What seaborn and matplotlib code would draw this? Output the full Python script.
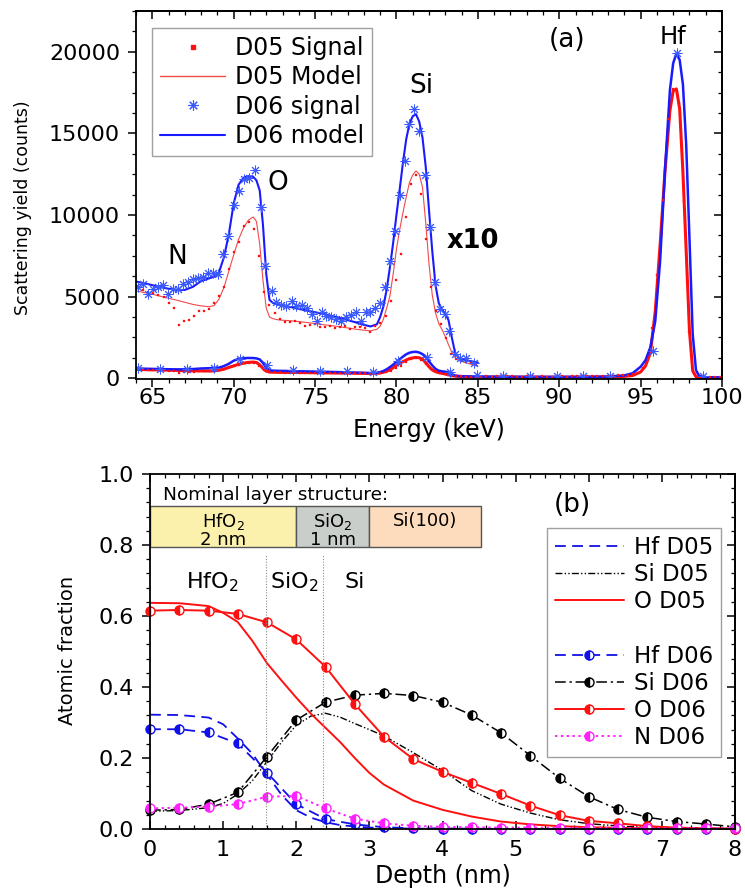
import matplotlib
matplotlib.use("Agg")
import matplotlib.pyplot as plt
from matplotlib.lines import Line2D
from matplotlib.patches import Rectangle
from matplotlib.ticker import MultipleLocator, FormatStrFormatter
import numpy as np
import seaborn as sns

# ---------------- (a) scattering spectra ----------------
# model curves (full-scale counts)
E_MODEL = [
    64.0, 64.5, 65.0, 65.5, 66.0, 66.5, 67.0, 67.5, 68.0, 68.5,
    68.8, 69.1, 69.4, 69.7, 70.0, 70.3, 70.6, 70.9, 71.2, 71.4,
    71.6, 71.8, 72.0, 72.2, 72.4, 72.7, 73.0, 73.5, 74.0, 74.5,
    75.0, 75.5, 76.0, 76.5, 77.0, 77.5, 78.0, 78.4, 78.8, 79.0,
    79.2, 79.4, 79.6, 79.8, 80.0, 80.2, 80.4, 80.6, 80.8, 81.0,
    81.2, 81.4, 81.6, 81.8, 82.0, 82.2, 82.4, 82.6, 82.8, 83.0,
    83.2, 83.4, 83.6, 83.8, 84.0, 84.5, 85.0, 86.0, 87.0, 88.0,
    89.0, 90.0, 91.0, 92.0, 93.0, 94.0, 94.5, 95.0, 95.3, 95.6,
    95.9, 96.2, 96.5, 96.8, 97.0, 97.2, 97.4, 97.6, 97.8, 98.0,
    98.2, 98.4, 98.6, 99.0, 99.5, 100.0]
D06_MODEL = [
    592, 582, 570, 558, 548, 541, 541, 560, 595, 612,
    622, 650, 740, 880, 1070, 1185, 1228, 1238, 1234, 1212,
    1150, 940, 640, 480, 462, 452, 447, 436, 425, 414,
    404, 395, 382, 370, 356, 342, 327, 317, 330, 375,
    440, 545, 680, 831, 1000, 1158, 1320, 1464, 1560, 1605,
    1618, 1572, 1475, 1295, 1030, 780, 570, 460, 420, 395,
    355, 250, 158, 128, 118, 105, 96, 90, 85, 82,
    80, 80, 82, 88, 100, 170, 300, 700, 1100, 1900,
    3500, 7200, 12800, 17650, 19300, 19900, 19500, 18000, 14300, 8600,
    2700, 500, 130, 60, 50, 45]
D05_MODEL = [
    535, 525, 515, 502, 490, 478, 465, 452, 443, 438,
    445, 485, 555, 655, 755, 850, 920, 968, 988, 960,
    820, 600, 430, 375, 365, 358, 355, 352, 347, 341,
    335, 328, 322, 315, 308, 300, 294, 290, 300, 318,
    362, 430, 504, 640, 790, 910, 1015, 1110, 1199, 1245,
    1270, 1250, 1170, 950, 700, 510, 400, 335, 298, 255,
    205, 158, 128, 112, 103, 88, 76, 70, 66, 63,
    60, 60, 62, 66, 75, 110, 160, 380, 750, 1550,
    4100, 8200, 12700, 16400, 17600, 17720, 16500, 12600, 7800, 2900,
    450, 90, 40, 30, 25, 20]

# measured D05 spectrum (counts)
E_D05_SIG = [
    64.14, 64.45, 64.76, 65.07, 65.38, 65.69, 66.00, 66.31, 66.62, 66.93,
    67.24, 67.55, 67.86, 68.17, 68.48, 68.79, 69.10, 69.41, 69.72, 70.03,
    70.34, 70.65, 70.96, 71.27, 71.58, 71.89, 72.20, 72.51, 72.82, 73.13,
    73.44, 73.75, 74.06, 74.37, 74.68, 74.99, 75.30, 75.61, 75.92, 76.23,
    76.54, 76.85, 77.16, 77.47, 77.78, 78.09, 78.40, 78.71, 79.02, 79.33,
    79.64, 79.95, 80.26, 80.57, 80.88, 81.19, 81.50, 81.81, 82.12, 82.43,
    82.74, 83.05, 83.36, 83.67, 83.98, 84.29, 84.60, 84.91, 85.22, 85.53,
    85.84, 86.15, 86.46, 86.77, 87.08, 87.39, 87.70, 88.01, 88.32, 88.63,
    88.94, 89.25, 89.56, 89.87, 90.18, 90.49, 90.80, 91.11, 91.42, 91.73,
    92.04, 92.35, 92.66, 92.97, 93.28, 93.59, 93.90, 94.21, 94.52, 94.83,
    95.14, 95.45, 95.72, 96.03, 96.37, 96.66, 96.97, 97.17, 97.37, 97.66,
    97.97, 98.34, 98.65, 98.96, 99.27, 99.58, 99.89]
D05_SIG = [
    566, 541, 530, 520, 512, 495, 460, 430, 327, 350,
    357, 380, 410, 410, 425, 460, 505, 560, 670, 776,
    835, 933, 960, 917, 750, 530, 450, 400, 360, 345,
    345, 351, 340, 321, 326, 335, 311, 316, 318, 306,
    311, 321, 300, 316, 311, 305, 280, 321, 341, 382,
    470, 600, 760, 985, 1190, 1245, 1130, 850, 560, 410,
    330, 245, 150, 118, 105, 98, 90, 82, 95, 105,
    100, 110, 95, 105, 120, 100, 95, 110, 105, 98,
    110, 100, 95, 105, 115, 100, 110, 120, 105, 115,
    120, 130, 125, 140, 160, 175, 190, 210, 240, 320,
    600, 1200, 3100, 6330, 10900, 15870, 17710, 17710, 16890, 10830,
    2860, 245, 80, 60, 55, 50, 45]

# measured D06 spectrum, light-element region (counts)
E_D06_SIG = [
    64.10, 64.41, 64.72, 65.03, 65.34, 65.65, 65.96, 66.27, 66.58, 66.89,
    67.20, 67.51, 67.82, 68.13, 68.44, 68.75, 69.06, 69.37, 69.68, 69.99,
    70.30, 70.61, 70.92, 71.31, 71.68, 71.93, 72.34, 72.60, 72.90, 73.20,
    73.56, 73.85, 74.17, 74.48, 74.79, 75.10, 75.40, 75.70, 75.98, 76.30,
    76.60, 76.90, 77.20, 77.50, 77.80, 78.10, 78.40, 78.70, 79.00, 79.30,
    79.60, 79.90, 80.20, 80.50, 80.80, 81.10, 81.40, 81.75, 82.06, 82.36,
    82.67, 82.98, 83.25, 83.60, 83.90, 84.27, 84.76]
D06_SIG = [
    556, 576, 515, 545, 560, 572, 515, 545, 545, 580,
    590, 607, 611, 620, 647, 643, 637, 760, 872, 1060,
    1148, 1223, 1229, 1277, 1052, 688, 535, 464, 450, 443,
    474, 440, 447, 433, 392, 351, 406, 380, 372, 362,
    351, 372, 390, 403, 351, 403, 403, 433, 460, 560,
    720, 900, 1120, 1330, 1556, 1652, 1515, 1244, 929, 590,
    423, 392, 290, 147, 121, 121, 96]

# measured D06 spectrum, full-scale symbols
E_D06_FULL = [64.14, 65.48, 67.13, 68.77, 70.40, 72.03, 73.67, 75.30, 76.94, 78.58,
              80.11, 81.86, 83.29, 84.93, 86.56, 88.20, 89.84, 91.47, 93.10, 95.78,
              97.25, 98.85]
D06_FULL = [650, 550, 550, 650, 1170, 800, 510, 410, 410, 400,
            1060, 1300, 350, 180, 140, 140, 140, 140, 150, 1670,
            19910, 140]

ZOOM_FACTOR = 10
ZOOM_END = 85.0

PEAK_LABELS = [("N", 66.55, 7400), ("O", 72.7, 11950), ("Si", 81.55, 17900)]

# ---------------- (b) depth profiles ----------------
DEPTH_D05 = [0.0, 0.4, 0.8, 1.0, 1.2, 1.4, 1.6, 1.8, 2.0, 2.2, 2.4, 2.6, 2.8,
             3.0, 3.2, 3.6, 4.0, 4.4, 4.8, 5.2, 5.6, 6.0, 6.5, 7.0, 7.5, 8.0]
HF_D05 = [0.322, 0.321, 0.314, 0.295, 0.255, 0.212, 0.153, 0.096, 0.053, 0.032,
          0.019, 0.011, 0.007, 0.004, 0.003, 0.001, 0.001, 0.0, 0.0, 0.0,
          0.0, 0.0, 0.0, 0.0, 0.0, 0.0]
SI_D05 = [0.050, 0.052, 0.060, 0.072, 0.098, 0.136, 0.190, 0.245, 0.292, 0.318,
          0.326, 0.315, 0.297, 0.280, 0.262, 0.215, 0.165, 0.108, 0.070, 0.045,
          0.026, 0.015, 0.007, 0.004, 0.002, 0.001]
O_D05 = [0.637, 0.636, 0.628, 0.609, 0.583, 0.530, 0.467, 0.418, 0.370, 0.325,
         0.285, 0.245, 0.200, 0.158, 0.125, 0.080, 0.054, 0.035, 0.021, 0.013,
         0.008, 0.005, 0.003, 0.002, 0.001, 0.000]

DEPTH_D06 = [0.0, 0.4, 0.8, 1.2, 1.6, 2.0, 2.4, 2.8, 3.2, 3.6, 4.0,
             4.4, 4.8, 5.2, 5.6, 6.0, 6.4, 6.8, 7.2, 7.6, 8.0]
HF_D06 = [0.281, 0.281, 0.272, 0.241, 0.159, 0.070, 0.028, 0.013, 0.005, 0.002,
          0.001, 0.001, 0.0, 0.0, 0.0, 0.0, 0.0, 0.0, 0.0, 0.0, 0.0]
SI_D06 = [0.053, 0.055, 0.070, 0.103, 0.204, 0.307, 0.357, 0.377, 0.382, 0.376,
          0.357, 0.321, 0.271, 0.207, 0.143, 0.091, 0.055, 0.033, 0.021, 0.014, 0.006]
O_D06 = [0.615, 0.617, 0.615, 0.606, 0.582, 0.534, 0.457, 0.352, 0.260, 0.197,
         0.161, 0.130, 0.099, 0.066, 0.039, 0.023, 0.016, 0.008, 0.004, 0.002, 0.001]
N_D06 = [0.058, 0.060, 0.063, 0.070, 0.091, 0.093, 0.058, 0.029, 0.016, 0.009,
         0.006, 0.005, 0.004, 0.004, 0.003, 0.003, 0.003, 0.002, 0.002, 0.002, 0.002]

INTERFACES = [1.58, 2.37]
LAYERS = [("HfO$_2$\n2 nm", 0.0, 2.0, "#fbf1ad"),
          ("SiO$_2$\n1 nm", 2.0, 3.0, "#c9cecb"),
          ("Si(100)", 3.0, 4.53, "#fcdcbc")]
REGION_LABELS = [("HfO$_2$", 0.85), ("SiO$_2$", 1.97), ("Si", 2.8)]

# ---------------- style ----------------
sns.set_theme(style="ticks")
plt.rcParams["font.family"] = ["DejaVu Sans"]
plt.rcParams["mathtext.fontset"] = "dejavusans"
for key in ["text.color", "axes.labelcolor", "xtick.color", "ytick.color", "axes.edgecolor"]:
    plt.rcParams[key] = "black"
plt.rcParams["axes.linewidth"] = 1.3

RED = "#ff1010"
RED_THIN = "#f04a4a"
BLUE = "#1a1aff"
BLUE_B = "#1010e8"
MAG = "#ff20ff"

W, H = 745, 890
fig = plt.figure(figsize=(W / 100, H / 100), dpi=100)


def px_box(left, top, right, bottom):
    return [left / W, 1 - bottom / H, (right - left) / W, (bottom - top) / H]


ax1 = fig.add_axes(px_box(136, 11, 722, 379))
ax2 = fig.add_axes(px_box(150, 474, 735, 829))


def draw(ax, x, y, **kw):
    sns.lineplot(x=np.asarray(x, float), y=np.asarray(y, float), ax=ax,
                 estimator=None, errorbar=None, sort=False, **kw)
    return ax.lines[-1]


def mirror_ticks(ax, xmaj, xmin, ymaj, ymin, top_x=True):
    sy = ax.secondary_yaxis("right")
    sy.yaxis.set_major_locator(MultipleLocator(ymaj))
    sy.yaxis.set_minor_locator(MultipleLocator(ymin))
    sy.tick_params(which="both", direction="in", labelright=False)
    sy.tick_params(which="major", length=5.5, width=1.1)
    sy.tick_params(which="minor", length=3, width=0.9)
    if top_x:
        sx = ax.secondary_xaxis("top")
        sx.xaxis.set_major_locator(MultipleLocator(xmaj))
        sx.xaxis.set_minor_locator(MultipleLocator(xmin))
        sx.tick_params(which="both", direction="in", labeltop=False)
        sx.tick_params(which="major", length=5.5, width=1.1)
        sx.tick_params(which="minor", length=3, width=0.9)


# ---------------- panel (a) ----------------
E = np.array(E_MODEL)
m05 = np.array(D05_MODEL, float)
m06 = np.array(D06_MODEL, float)
zm = E <= ZOOM_END

draw(ax1, E, m05, color=RED, lw=2.2)
draw(ax1, E, m06, color=BLUE, lw=1.8)
draw(ax1, E[zm], ZOOM_FACTOR * m05[zm], color=RED_THIN, lw=0.8)
draw(ax1, E[zm], ZOOM_FACTOR * m06[zm], color=BLUE, lw=1.5)

e5 = np.array(E_D05_SIG)
s5 = np.array(D05_SIG, float)
dot_kw = dict(color=RED, linestyle="none", marker="s", markersize=2.0,
              mfc=RED, mec=RED, mew=0.2)
draw(ax1, e5, s5, **dot_kw)
draw(ax1, e5[e5 <= ZOOM_END], ZOOM_FACTOR * s5[e5 <= ZOOM_END], **dot_kw)

star_kw = dict(color=BLUE, linestyle="none", marker=(8, 2, 0), markersize=7,
               mec="#3a5aff", mew=0.7)
draw(ax1, E_D06_SIG, ZOOM_FACTOR * np.array(D06_SIG, float), **star_kw)
draw(ax1, E_D06_FULL, D06_FULL, **star_kw)

ax1.set_xlim(64, 100)
ax1.set_ylim(-50, 22500)
ax1.xaxis.set_major_locator(MultipleLocator(5))
ax1.xaxis.set_minor_locator(MultipleLocator(1))
ax1.yaxis.set_major_locator(MultipleLocator(5000))
ax1.yaxis.set_minor_locator(MultipleLocator(1250))
ax1.tick_params(which="both", direction="out", top=False, right=False, labelsize=16)
ax1.tick_params(axis="x", pad=1)
ax1.tick_params(axis="y", pad=6)
ax1.tick_params(which="major", length=5.5, width=1.1)
ax1.tick_params(which="minor", length=3, width=0.9)
mirror_ticks(ax1, 5, 1, 5000, 1250)

ax1.set_xlabel("Energy (keV)", fontsize=17)
ax1.set_ylabel("Scattering yield (counts)", fontsize=12.5)
ax1.xaxis.set_label_coords(0.5, -0.105)
ax1.yaxis.set_label_coords(-0.178, 0.465)

for txt, ex, cy in PEAK_LABELS:
    ax1.text(ex, cy, txt, ha="center", va="center", fontsize=19)
ax1.text(97.0, 20900, "Hf", ha="center", va="center", fontsize=17.5)
ax1.text(90.5, 20700, "(a)", ha="center", va="center", fontsize=19)
ax1.text(84.67, 8380, "x10", ha="center", va="center", fontsize=18.5, fontweight="bold")

leg_a = [
    Line2D([], [], color=RED, linestyle="none", marker="s", markersize=2.5, mec=RED),
    Line2D([], [], color=RED_THIN, lw=1.0),
    Line2D([], [], color=BLUE, linestyle="none", marker=(8, 2, 0), markersize=7.5,
           mec="#3a5aff", mew=0.8),
    Line2D([], [], color=BLUE, lw=1.5),
]
lg = ax1.legend(leg_a, ["D05 Signal", "D05 Model", "D06 signal", "D06 model"],
                loc="upper left", bbox_to_anchor=((152 - 136) / 586, (379 - 28) / 368),
                borderaxespad=0, frameon=True, fancybox=False, edgecolor="#888888",
                fontsize=17, handlelength=2.75, handletextpad=0.4,
                labelspacing=0.22, borderpad=0.35, numpoints=1)
lg.get_frame().set_linewidth(1.0)

# ---------------- panel (b) ----------------
draw(ax2, DEPTH_D05, HF_D05, color=BLUE_B, lw=1.3, linestyle=(0, (6, 3.5)))
draw(ax2, DEPTH_D05, SI_D05, color="black", lw=1.0, linestyle=(0, (5, 1.6, 1, 1.6, 1, 1.6)))
draw(ax2, DEPTH_D05, O_D05, color=RED, lw=1.4)

half = dict(marker="o", markersize=6.5, fillstyle="left", markerfacecoloralt="white",
            mew=1.0, clip_on=False)
h_hf6 = draw(ax2, DEPTH_D06, HF_D06, color=BLUE_B, lw=1.3, linestyle=(0, (6, 3.5)),
             mfc=BLUE_B, mec=BLUE_B, **half)
h_si6 = draw(ax2, DEPTH_D06, SI_D06, color="black", lw=1.1, linestyle=(0, (7, 2.5, 1.5, 2.5)),
             mfc="black", mec="black", **half)
h_o6 = draw(ax2, DEPTH_D06, O_D06, color=RED, lw=1.4, mfc=RED, mec=RED, **half)
h_n6 = draw(ax2, DEPTH_D06, N_D06, color=MAG, lw=1.4, linestyle=(0, (1.2, 1.8)),
            mfc=MAG, mec=MAG, **half)

ax2.vlines(INTERFACES, 0, 0.775, colors="#8c8c8c", lw=0.8, linestyles=(0, (1, 1.5)))

for label, x0, x1, fc in LAYERS:
    ax2.add_patch(Rectangle((x0, 0.795), x1 - x0, 0.115, facecolor=fc,
                            edgecolor="#555555", lw=1.0, zorder=1))
ax2.text(1.0, 0.843, LAYERS[0][0], ha="center", va="center", fontsize=13, linespacing=0.95)
ax2.text(2.5, 0.843, LAYERS[1][0], ha="center", va="center", fontsize=13, linespacing=0.95)
ax2.text(3.765, 0.868, LAYERS[2][0], ha="center", va="center", fontsize=13)
ax2.text(0.18, 0.942, "Nominal layer structure:", ha="left", va="center", fontsize=13.3)
for txt, dx in REGION_LABELS:
    ax2.text(dx, 0.696, txt, ha="center", va="center", fontsize=16)
ax2.text(5.77, 0.913, "(b)", ha="center", va="center", fontsize=19)

ax2.set_xlim(0, 8)
ax2.set_ylim(0, 1.0)
ax2.xaxis.set_major_locator(MultipleLocator(1))
ax2.xaxis.set_minor_locator(MultipleLocator(0.2))
ax2.yaxis.set_major_locator(MultipleLocator(0.2))
ax2.yaxis.set_minor_locator(MultipleLocator(0.04))
ax2.yaxis.set_major_formatter(FormatStrFormatter("%.1f"))
ax2.tick_params(axis="x", which="both", direction="in", top=True, labelsize=16, pad=8)
ax2.tick_params(axis="y", which="both", direction="out", right=False, labelsize=16, pad=6)
ax2.tick_params(which="major", length=5.5, width=1.1)
ax2.tick_params(which="minor", length=3, width=0.9)
mirror_ticks(ax2, 1, 0.2, 0.2, 0.04, top_x=False)

ax2.set_xlabel("Depth (nm)", fontsize=17)
ax2.set_ylabel("Atomic fraction", fontsize=14)
ax2.xaxis.set_label_coords(0.5, -0.098)
ax2.yaxis.set_label_coords(-0.125, 0.504)

leg_b = [
    Line2D([], [], color=BLUE_B, lw=1.3, linestyle=(0, (6, 3.5))),
    Line2D([], [], color="black", lw=1.0, linestyle=(0, (5, 1.6, 1, 1.6, 1, 1.6))),
    Line2D([], [], color=RED, lw=1.4),
    Line2D([], [], color="none"),
    h_hf6, h_si6, h_o6, h_n6,
]
lb = ax2.legend(leg_b, ["Hf D05", "Si D05", "O D05", " ", "Hf D06", "Si D06", "O D06", "N D06"],
                loc="upper left", bbox_to_anchor=((547 - 150) / 585, (829 - 528) / 355),
                borderaxespad=0, frameon=True, fancybox=False, edgecolor="#888888",
                fontsize=16.5, handlelength=3.0, handletextpad=0.45,
                labelspacing=0.18, borderpad=0.35, numpoints=1)
lb.get_frame().set_linewidth(1.0)

fig.savefig("out.png", dpi=100)
